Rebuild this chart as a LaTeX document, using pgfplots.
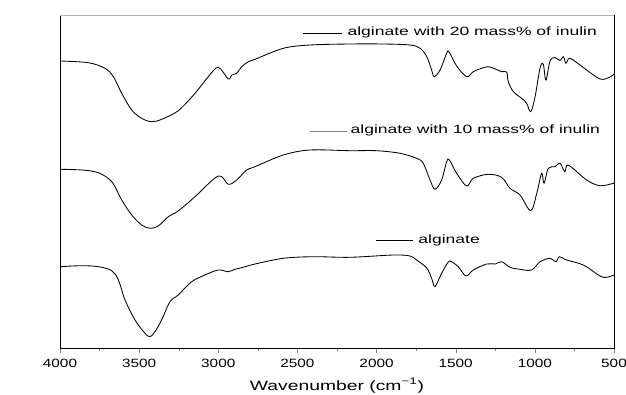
\documentclass[border=0pt]{standalone}
\usepackage{fontspec}
\setmainfont{Liberation Sans}
\usepackage{pgfplots}
\pgfplotsset{compat=1.18}
\begin{document}
\begin{tikzpicture}
\begin{axis}[
  scale only axis, width=554pt, height=333pt,
  xmin=500, xmax=4000, x dir=reverse, ymin=0, ymax=333,
  xtick={500,1000,...,4000}, minor x tick num=1, ytick=\empty,
  xtick pos=bottom, tick align=outside,
  major tick length=5pt, minor tick length=3pt,
  /pgf/number format/assume math mode=true,
  /pgf/number format/1000 sep={},
  scaled x ticks=false,
  x tick label style={font=\fontsize{12}{12}\selectfont, xscale=1.28, yshift=-3pt},
  axis line style={line width=0.8pt},
  xlabel={Wavenumber (cm\textsuperscript{\char"2212 1})},
  xlabel style={at={(axis description cs:0.5,0)}, anchor=base, yshift=-42pt, font=\fontsize{13.5}{14}\selectfont, xscale=1.43},
  every axis plot post/.append style={black, line width=0.85pt, mark=none, smooth, tension=0.55},
]
% alginate with 20 mass% of inulin
\addplot coordinates {
(4000,287) (3821,285.3) (3716,279.7) (3663,271.3) (3610,254.7) (3547,238) (3484,229.7)
(3421,226.3) (3358,228.7) (3253,237.3) (3147,254.7) (3063,271.3) (3000,280.7) (2937,269)
(2915,273) (2884,274.7) (2852,281.3) (2810,286.3) (2768,288.7) (2589,299.7) (2420,303)
(2168,304) (1959,304) (1789,303) (1725,299.7) (1683,291.3) (1652,278) (1636,271.3)
(1599,278) (1557,294.7) (1542,296) (1494,282) (1431,271.3) (1389,276.3) (1340,279.5)
(1294,281.3) (1250,279) (1210,276.3) (1178,276) (1168,266.3) (1136,256.3) (1083,249.7)
(1052,244.7) (1026,236.3) (999,251) (967,280) (947,284) (930,268) (904,287) (873,290.5)
(841,287.5) (820,291.3) (803,284.7) (778,289.7) (694,280.5) (588,269) (525,271) (500,274)
};
% alginate with 10 mass% of inulin
\addplot coordinates {
(4000,178.7) (3863,178) (3758,175.3) (3673,166.3) (3610,148) (3547,133) (3484,123)
(3431,119.7) (3379,122) (3316,131.3) (3253,137) (3147,151.3) (3000,172) (2937,163.7)
(2884,168) (2821,178) (2768,181.3) (2589,193) (2420,198) (2168,197.3) (2000,197.3)
(1852,194.7) (1747,189.7) (1705,184.7) (1662,168) (1631,158.7) (1589,168) (1557,186.3)
(1540,188) (1494,174.7) (1431,162) (1389,169.7) (1294,173.7) (1210,170.7) (1157,159.7)
(1094,153) (1026,137.3) (988,154.7) (957,174.7) (942,164.7) (915,179.7) (873,181.3)
(841,184.7) (810,176.3) (789,183) (673,168) (588,162.3) (504,164.7) (500,165.5)
};
% alginate
\addplot coordinates {
(4000,81.3) (3863,82.3) (3758,81.3) (3673,77.3) (3631,68) (3589,48) (3526,28) (3463,14.7)
(3431,11.3) (3400,16.3) (3358,28) (3305,46.3) (3253,53) (3168,66.3) (3084,73) (3000,78)
(2937,76.3) (2895,78.7) (2852,80.3) (2768,84) (2589,89.7) (2400,91.3) (2168,90.7)
(1894,93) (1789,92) (1747,88) (1683,80) (1652,69.7) (1631,61.5) (1589,74.7) (1547,86)
(1526,86.3) (1484,81.3) (1435,72) (1389,78) (1305,84) (1250,84) (1210,86.3) (1157,80.7)
(1094,78.7) (1021,78) (967,86.3) (904,89.7) (867,86.3) (845,91.3) (799,88) (694,83)
(588,72) (546,70.7) (500,73)
};
\draw[gray!60, line width=0.8pt] (rel axis cs:0,1) -- (rel axis cs:1,1);
\node[rotate=90, font=\fontsize{13}{14}\selectfont] at ([xshift=-40pt]rel axis cs:0,0.547) {\%T};
\draw[black, line width=0.7pt] (axis cs:2465,315) -- (axis cs:2218,315)
  node[anchor=mid west, xshift=5pt, inner sep=0pt, font=\fontsize{12}{12}\selectfont, xscale=1.46] {alginate with 20 mass\% of inulin};
\draw[black!50, line width=1pt] (axis cs:2420,217) -- (axis cs:2187,217)
  node[anchor=mid west, xshift=3pt, inner sep=0pt, font=\fontsize{12}{12}\selectfont, xscale=1.46, text=black] {alginate with 10 mass\% of inulin};
\draw[black, line width=0.7pt] (axis cs:2004,107.3) -- (axis cs:1770,107.3)
  node[anchor=mid west, xshift=5pt, inner sep=0pt, font=\fontsize{12}{12}\selectfont, xscale=1.46] {alginate};
\end{axis}
\pgfresetboundingbox
\path[use as bounding box] (-60pt,-46pt) rectangle (566pt,348pt);
\end{tikzpicture}
\end{document}
